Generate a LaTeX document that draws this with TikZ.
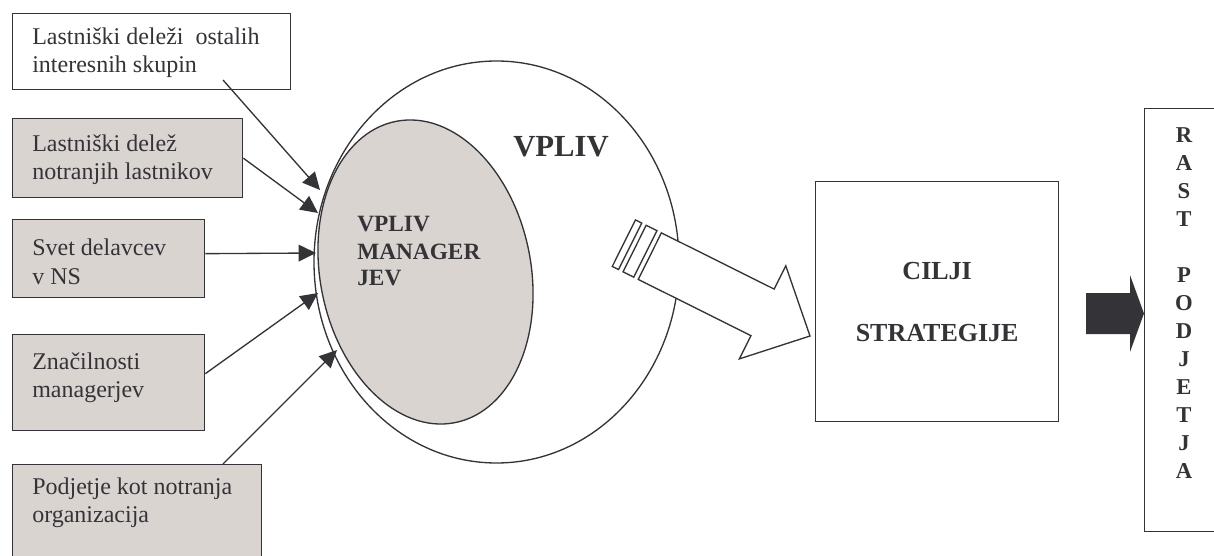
\documentclass[tikz,border=0pt]{standalone}
\usepackage{fontspec}
\setmainfont{Liberation Serif}
\usetikzlibrary{arrows.meta,shapes.geometric}
\definecolor{ink}{RGB}{52,52,56}
\definecolor{shade}{RGB}{218,212,209}
\begin{document}
\begin{tikzpicture}[x=0.75pt,y=-0.75pt,
  box/.style={draw=ink, line width=1pt, anchor=north west, inner sep=0pt, fill=white},
  graybox/.style={box, fill=shade},
  txt/.style={anchor=base west, align=left, inner sep=0pt, text=ink,
    font=\fontsize{18}{21}\selectfont},
  boldtxt/.style={inner sep=0pt, text=ink, font=\bfseries\fontsize{17.5}{20.25}\selectfont},
  link/.style={draw=ink, line width=1pt, -{Triangle[length=13pt,width=12.5pt]}},
  outline/.style={draw=ink, line width=1pt}]
\path[use as bounding box, clip] (0,0) rectangle (1214,556);

% input boxes on the left
\node[box, minimum width=208.5pt, minimum height=57pt] (b1) at (12,13) {};
\node[graybox, minimum width=172.5pt, minimum height=59.25pt] (b2) at (12,118) {};
\node[graybox, minimum width=144pt, minimum height=58.5pt] (b3) at (12,219) {};
\node[graybox, minimum width=144pt, minimum height=72pt] (b4) at (12,334) {};
\node[graybox, minimum width=186.75pt, minimum height=82.5pt] (b5) at (12,464) {};

% two-line labels, placed by the baseline of their second line
\node[txt] (l1) at ([shift={(20,60)}]b1.north west) {Lastniški deleži\ \ ostalih\\interesnih skupin};
\node[txt] (l2) at ([shift={(20,62)}]b2.north west) {Lastniški delež\\notranjih lastnikov};
\node[txt] (l3) at ([shift={(20,65)}]b3.north west) {Svet delavcev\\v NS};
\node[txt] (l4) at ([shift={(20,63)}]b4.north west) {Značilnosti\\managerjev};
\node[txt] (l5) at ([shift={(20,58)}]b5.north west) {Podjetje kot notranja\\organizacija};

% influence circle and managers' ellipse
\node[outline, ellipse, fill=white, inner sep=0pt, minimum width=273.75pt, minimum height=301.5pt] (vpliv) at (496.5,262) {};
\node[outline, ellipse, fill=shade, inner sep=0pt, minimum width=158.1pt, minimum height=230.25pt, rotate=11] (mgr) at (425.5,272) {};

\node[inner sep=0pt, text=ink, font=\bfseries\fontsize{23}{27}\selectfont, anchor=base] (vt) at (561,157) {VPLIV};
\node[boldtxt, anchor=base west, align=left] (mt) at (357,286) {VPLIV\\MANAGER\\JEV};

% striped hollow arrow towards the goals
\begin{scope}[shift={(810,336)}, rotate=-26.5]
  \draw[outline, fill=white] (0,0) -- (-53,-52) -- (-53,-26) -- (-179,-26) -- (-179,26) -- (-53,26) -- (-53,52) -- cycle;
  \draw[outline, fill=white] (-196,-26) rectangle (-184,26);
  \draw[outline, fill=white] (-208,-26) rectangle (-201,26);
\end{scope}

% goals and strategy
\node[box, minimum width=182.25pt, minimum height=180pt] (cilji) at (815,181) {};
\node[boldtxt, align=center, font=\bfseries\fontsize{19.5}{46.5}\selectfont] (ct) at (cilji.center) {CILJI\\STRATEGIJE};

% company growth
\node[box, minimum width=60pt, minimum height=317.25pt] (rast) at (1144,108) {};
\node[boldtxt, anchor=base, align=center, font=\bfseries\fontsize{17}{21}\selectfont] (rt) at (1184,478)
  {R\\A\\S\\T\\[21pt]P\\O\\D\\J\\E\\T\\J\\A};

\fill[ink] (1086,293) -- (1130,293) -- (1130,275) -- (rast.west |- 0,313.5) -- (1130,352) -- (1130,334) -- (1086,334) -- cycle;

% connectors into the managers' ellipse
\coordinate (s1) at ([shift={(211,67)}]b1.north west);
\coordinate (s3) at ([shift={(0,-5)}]b3.east);
\coordinate (s4) at ([shift={(0,-9)}]b4.east);
\coordinate (s5) at ([shift={(211,0)}]b5.north west);
\coordinate (t1) at (320,190);
\coordinate (t2) at (318,213);
\coordinate (t3) at (316,253);
\coordinate (t4) at (318,293);
\coordinate (t5) at (337,350);
\draw[link] (s1) -- (t1);
\draw[link] (b2.east) -- (t2);
\draw[link] (s3) -- (t3);
\draw[link] (s4) -- (t4);
\draw[link] (s5) -- (t5);
\end{tikzpicture}
\end{document}
